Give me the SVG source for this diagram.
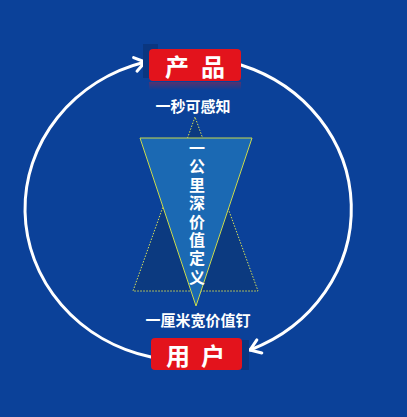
<svg xmlns="http://www.w3.org/2000/svg" width="407" height="417" viewBox="0 0 407 417">
  <style>
    .cjk { font-family: "Noto Sans CJK SC", "Noto Sans CJK JP", sans-serif; font-weight: 700; fill: #ffffff; }
    .box { fill: #e3131c; }
    .ring { fill: none; stroke: #ffffff; stroke-width: 3; stroke-linecap: round; }
  </style>
  <defs>
    <marker id="chev" markerUnits="userSpaceOnUse" markerWidth="20" markerHeight="20" refX="0" refY="0" viewBox="-12 -10 14 20" orient="auto">
      <path d="M-10,-7 L0,0 L-10,7" fill="none" stroke="#ffffff" stroke-width="3" stroke-linecap="round" stroke-linejoin="round"/>
    </marker>
    <linearGradient id="refl" x1="0" y1="0" x2="0" y2="1">
      <stop offset="0" stop-color="#e3131c" stop-opacity="0.35"/>
      <stop offset="1" stop-color="#e3131c" stop-opacity="0"/>
    </linearGradient>
  </defs>
  <rect x="0" y="0" width="407" height="417" fill="#0b4199"/>

  <g id="connectors">
    <path class="ring" d="M151,357 A162,152 0 0 1 145,62" marker-end="url(#chev)"/>
    <path class="ring" d="M241,65 A162,152 0 0 1 250,350" marker-end="url(#chev)"/>
  </g>

  <g id="triangles">
    <polygon points="195,117 133,291 258,291" fill="#0c3a80" stroke="#d7e05a" stroke-width="1" stroke-dasharray="1.5,1.5"/>
    <polygon points="140,138 252,138 196,306" fill="#1b69b3" stroke="#c9d84c" stroke-width="1"/>
    <text class="cjk" font-size="16" x="197" y="140" writing-mode="vertical-rl" letter-spacing="2.4">一公里深价值定义</text>
  </g>

  <g id="product">
    <rect x="143" y="44" width="15" height="34" fill="#0a3680"/>
    <rect x="149" y="82" width="92" height="8" fill="url(#refl)"/>
    <rect class="box" x="149" y="49" width="92" height="32" rx="4"/>
    <text class="cjk" font-size="24" dominant-baseline="central" y="65"><tspan x="165">产</tspan><tspan x="201">品</tspan></text>
  </g>

  <g id="label-top">
    <text class="cjk" font-size="15" text-anchor="middle" x="193" y="112">一秒可感知</text>
  </g>

  <g id="label-bottom">
    <text class="cjk" font-size="15" text-anchor="middle" x="198" y="326">一厘米宽价值钉</text>
  </g>

  <g id="user">
    <rect x="241" y="340" width="8" height="30" fill="#0a3680"/>
    <rect class="box" x="151" y="338" width="91" height="32" rx="4"/>
    <text class="cjk" font-size="24" dominant-baseline="central" y="354"><tspan x="166">用</tspan><tspan x="201">户</tspan></text>
  </g>
</svg>
